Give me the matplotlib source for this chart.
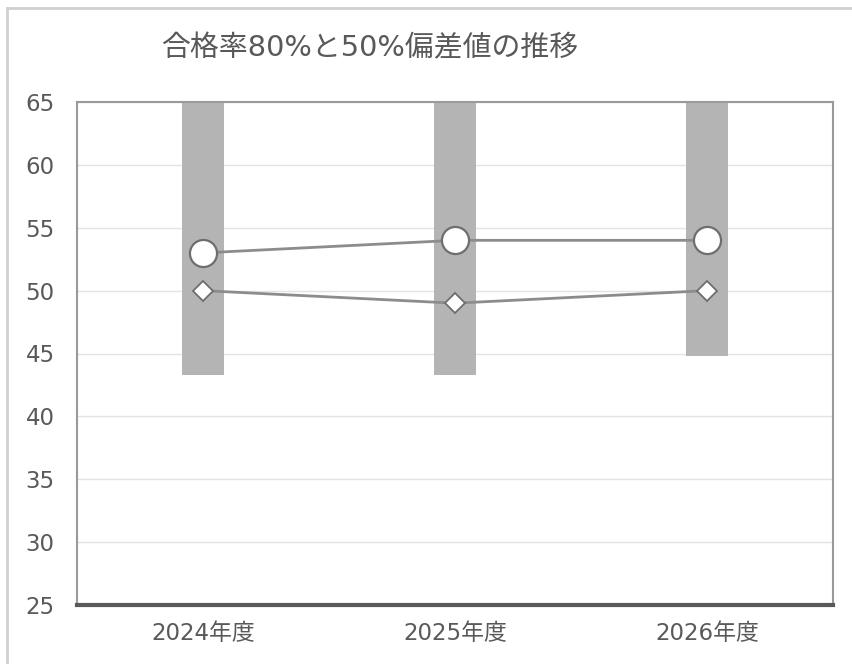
import matplotlib
matplotlib.use("Agg")
import matplotlib.pyplot as plt
from matplotlib.lines import Line2D

plt.rcParams['font.family'] = ['DejaVu Sans', 'Noto Sans CJK JP']

categories = ["2024年度", "2025年度", "2026年度"]
bar_low = [43.3, 43.3, 44.8]
bar_high = [65, 65, 65]
pass80 = [53, 54, 54]
pass50 = [50, 49, 50]
yticks = [25, 30, 35, 40, 45, 50, 55, 60, 65]
title = "合格率80%と50%偏差値の推移"

text_color = "#595959"

fig = plt.figure(figsize=(8.53, 6.64), dpi=100)
ax = fig.add_axes([77/853, 59/664, 756/853, 503/664])

x = list(range(len(categories)))
heights = [h - l for h, l in zip(bar_high, bar_low)]
ax.bar(x, heights, bottom=bar_low, width=0.17, color="#b4b4b4", zorder=2)

ax.plot(x, pass80, color="#8c8c8c", lw=2, marker="o", ms=19.5,
        mfc="white", mec="#6e6e6e", mew=1.6, zorder=4)
ax.plot(x, pass50, color="#8c8c8c", lw=2, marker="D", ms=10,
        mfc="white", mec="#6e6e6e", mew=1.3, zorder=4)

ax.set_xlim(-0.5, 2.5)
ax.set_ylim(25, 65)
ax.set_yticks(yticks)
ax.set_xticks(x)
ax.set_xticklabels(categories)
ax.tick_params(axis="both", length=0, labelsize=16.5, colors=text_color)
ax.tick_params(axis="y", pad=16)
ax.tick_params(axis="x", pad=12)
ax.yaxis.grid(True, color="#e3e3e3", lw=1, zorder=0)
ax.set_axisbelow(True)

for s in ["left", "right", "top"]:
    ax.spines[s].set_color("#9a9a9a")
    ax.spines[s].set_linewidth(1.5)
ax.spines["bottom"].set_color("#595959")
ax.spines["bottom"].set_linewidth(3)

fig.text(370/853, 1 - 48/664, title, ha="center", va="center",
         fontsize=20.8, color=text_color)

# outer chart border (top and left)
fig.add_artist(Line2D([7/853, 1], [1 - 8/664, 1 - 8/664], color="#d0d0d0", lw=2,
                      transform=fig.transFigure))
fig.add_artist(Line2D([7/853, 7/853], [0, 1 - 8/664], color="#d0d0d0", lw=2,
                      transform=fig.transFigure))

fig.savefig("out.png", dpi=100)
